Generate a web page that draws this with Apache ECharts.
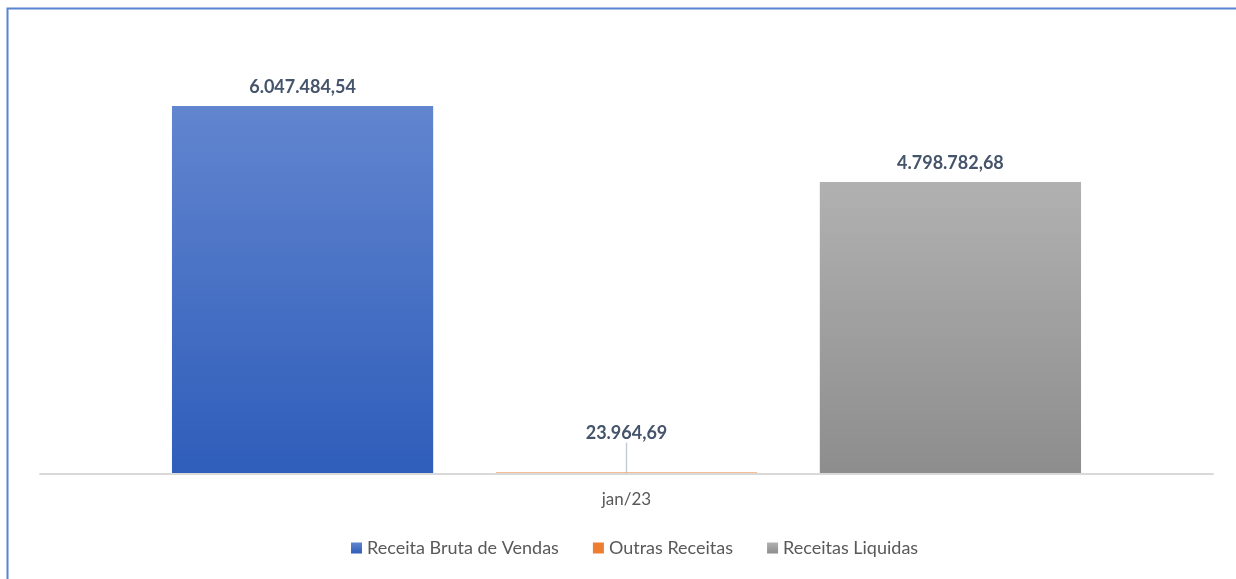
<!DOCTYPE html>
<html>
<head>
<meta charset="utf-8">
<script src="https://cdn.jsdelivr.net/npm/echarts@6/dist/echarts.min.js"></script>
<style>
  html, body { margin: 0; padding: 0; background: #fff; }
  #chart { width: 1236px; height: 579px; }
</style>
</head>
<body>
<div id="chart"></div>
<script>
const categories = ["jan/23"];
const seriesNames = ["Receita Bruta de Vendas", "Outras Receitas", "Receitas Liquidas"];
const receitaBruta = [6047484.54];
const outrasReceitas = [23964.69];
const receitasLiquidas = [4798782.68];

// formata no padrão brasileiro: 6.047.484,54
function fmtBR(v) {
    const parts = v.toFixed(2).split(".");
    const inteiro = parts[0].replace(/\B(?=(\d{3})+(?!\d))/g, ".");
    return inteiro + "," + parts[1];
}

const fontFamily = "Lato, 'Open Sans', sans-serif";
const labelStyle = {
    show: true,
    position: "top",
    distance: 10,
    color: "#44546A",
    fontSize: 18,
    fontWeight: "bold",
    fontFamily: fontFamily,
    formatter: p => fmtBR(p.value)
};

function gradient(top, bottom) {
    return new echarts.graphic.LinearGradient(0, 0, 0, 1, [
        { offset: 0, color: top },
        { offset: 1, color: bottom }
    ]);
}

const chart = echarts.init(document.getElementById("chart"));
chart.setOption({
    backgroundColor: "#ffffff",
    animation: false,
    graphic: [{
        type: "rect",
        left: 5,
        top: 6,
        shape: { width: 1400, height: 800 },
        style: { fill: "none", stroke: "#5A84CF", lineWidth: 2 },
        silent: true
    }],
    grid: { left: 40, right: 23, top: 48, bottom: 105 },
    legend: {
        data: seriesNames,
        left: 346,
        bottom: 17,
        icon: "rect",
        itemWidth: 11,
        itemHeight: 11,
        itemGap: 34,
        textStyle: { color: "#595959", fontSize: 18, fontFamily: fontFamily }
    },
    xAxis: {
        type: "category",
        data: categories,
        z: 5,
        axisLine: { lineStyle: { color: "#D9D9D9", width: 2 } },
        axisTick: { show: false },
        axisLabel: { color: "#595959", fontSize: 17, fontFamily: fontFamily, margin: 17 }
    },
    yAxis: {
        type: "value",
        min: 0,
        max: 7000000,
        show: false,
        splitLine: { show: false }
    },
    series: [
        {
            name: seriesNames[0],
            type: "bar",
            data: receitaBruta,
            barGap: "24%",
            barCategoryGap: "22.5%",
            itemStyle: { color: gradient("#6285CF", "#2E5DBA") },
            label: labelStyle
        },
        {
            name: seriesNames[1],
            type: "bar",
            data: outrasReceitas,
            itemStyle: { color: "#ED7D31" },
            label: labelStyle,
            labelLayout: { dy: -20 },
            labelLine: { show: true, lineStyle: { color: "#C5CCD6", width: 1.5 } }
        },
        {
            name: seriesNames[2],
            type: "bar",
            data: receitasLiquidas,
            itemStyle: { color: gradient("#B1B1B1", "#8D8D8D") },
            label: labelStyle
        }
    ]
});
</script>
</body>
</html>
